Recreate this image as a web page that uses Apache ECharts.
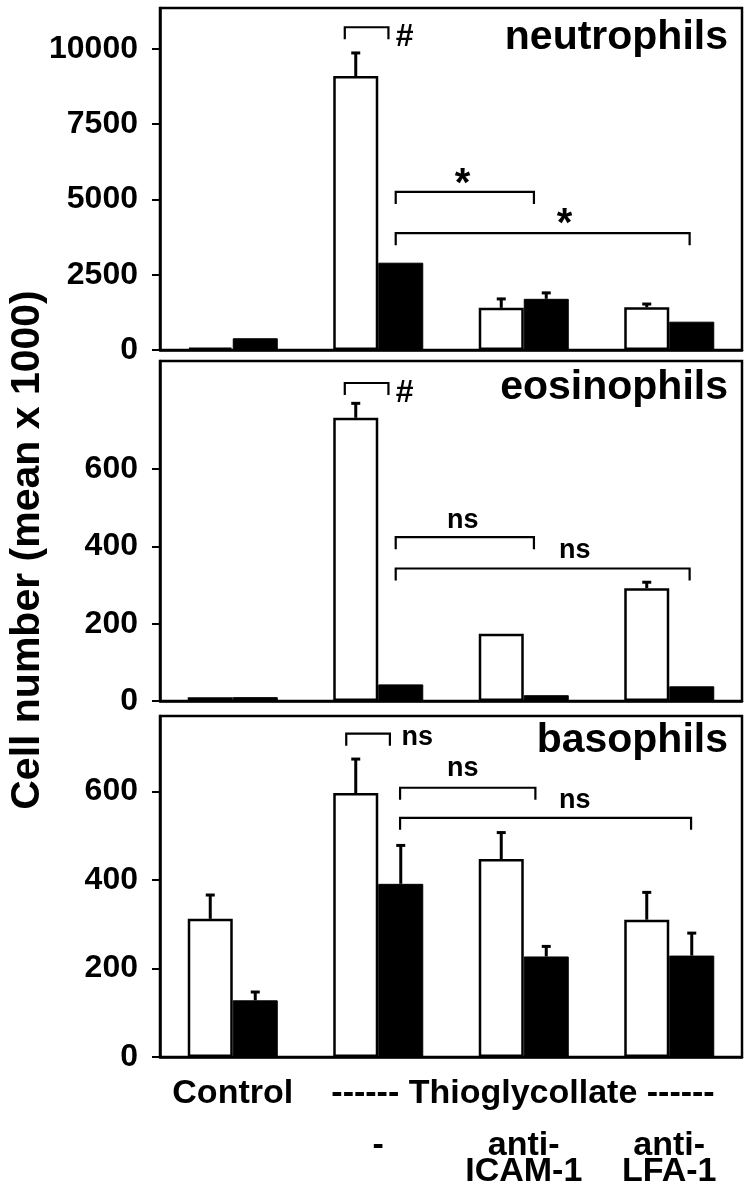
<!DOCTYPE html>
<html><head><meta charset="utf-8">
<script src="https://cdn.jsdelivr.net/npm/echarts@6/dist/echarts.min.js"></script>
<style>html,body{margin:0;padding:0;background:#fff}#c{width:746px;height:1200px}</style>
</head><body><div id="c"></div>
<script>
// ---------- data (cell number, mean x 1000) ----------
const categories = ['Control', '-', 'anti-\nICAM-1', 'anti-\nLFA-1'];
const groupLabel = '------ Thioglycollate ------';
const yTitle = 'Cell number (mean x 1000)';
const panelNames = ['neutrophils', 'eosinophils', 'basophils'];

const neutroOpen = [80, 9100, 1400, 1420];
const neutroOpenErr = [0, 800, 330, 140];
const neutroFilled = [390, 2900, 1700, 940];
const neutroFilledErr = [0, 0, 230, 0];
const neutroTicks = [0, 2500, 5000, 7500, 10000];
const neutroMax = 11360;

const eosinoOpen = [10, 733, 174, 292];
const eosinoOpenErr = [0, 40, 0, 18];
const eosinoFilled = [10, 43, 15, 38];
const eosinoFilledErr = [0, 0, 0, 0];
const eosinoTicks = [0, 200, 400, 600];
const eosinoMax = 880;

const basoOpen = [312, 596, 447, 310];
const basoOpenErr = [56, 79, 62, 64];
const basoFilled = [128, 391, 227, 229];
const basoFilledErr = [21, 89, 25, 53];
const basoTicks = [0, 200, 400, 600];
const basoMax = 770;

// significance brackets: [from group, to group, level]
const neutroBrackets = [[0.77, 1.07, 10720], [1.12, 2.07, 5250], [1.12, 3.14, 3880]];
const eosinoBrackets = [[0.77, 1.07, 823], [1.12, 2.07, 424], [1.12, 3.14, 343]];
const basoBrackets = [[0.78, 1.08, 730], [1.15, 2.08, 608], [1.15, 3.15, 540]];
// significance marks: [text, group position, level, align]
const neutroMarks = [['#', 1.12, 10390, 'left'], ['*', 1.58, 5480, 'center'], ['*', 2.28, 4150, 'center']];
const eosinoMarks = [['#', 1.12, 796, 'left'], ['ns', 1.58, 468, 'center'], ['ns', 2.35, 390, 'center']];
const basoMarks = [['ns', 1.16, 721, 'left'], ['ns', 1.58, 651, 'center'], ['ns', 2.35, 580, 'center']];

// ---------- layout / style ----------
const FONT = '"Liberation Sans", Arial, Helvetica, sans-serif';
const BAR_W = 45;
const GRID_LEFT = 160, GRID_W = 582;
const layout = [{top: 8, height: 342}, {top: 361, height: 340}, {top: 716, height: 341}];
const titleY = [38, 388, 741];

const panels = [
  {open: neutroOpen, openErr: neutroOpenErr, filled: neutroFilled, filledErr: neutroFilledErr, ticks: neutroTicks, max: neutroMax, brackets: neutroBrackets, marks: neutroMarks},
  {open: eosinoOpen, openErr: eosinoOpenErr, filled: eosinoFilled, filledErr: eosinoFilledErr, ticks: eosinoTicks, max: eosinoMax, brackets: eosinoBrackets, marks: eosinoMarks},
  {open: basoOpen, openErr: basoOpenErr, filled: basoFilled, filledErr: basoFilledErr, ticks: basoTicks, max: basoMax, brackets: basoBrackets, marks: basoMarks}
];

function errRender(side) {
  return function (params, api) {
    const v = api.value(1), e = api.value(2);
    if (!(e > 0)) return null;
    const base = api.coord([api.value(0), v]);
    const top = api.coord([api.value(0), v + e]);
    const x = base[0] + side * BAR_W / 2;
    return {type: 'group', children: [
      {type: 'line', shape: {x1: x, y1: base[1], x2: x, y2: top[1]}, style: {stroke: '#000', lineWidth: 3}},
      {type: 'line', shape: {x1: x - 4.5, y1: top[1] + 1, x2: x + 4.5, y2: top[1] + 1}, style: {stroke: '#000', lineWidth: 3}}
    ]};
  };
}

function bracketRender(params, api) {
  const a = api.coord([api.value(0), api.value(2)]);
  const b = api.coord([api.value(1), api.value(2)]);
  const drop = 12;
  return {type: 'polyline', shape: {points: [[a[0], a[1] + drop], [a[0], a[1]], [b[0], b[1]], [b[0], b[1] + drop]]},
    style: {stroke: '#000', lineWidth: 2.2, fill: null}};
}

function markRender(marks) {
  return function (params, api) {
    const m = marks[params.dataIndex];
    const p = api.coord([api.value(0), api.value(1)]);
    const size = m[0] === '*' ? 40 : (m[0] === '#' ? 32 : 27);
    return {type: 'text', x: p[0], y: p[1],
      style: {text: m[0], font: 'bold ' + size + 'px ' + FONT, fill: '#000', align: m[3], verticalAlign: 'middle'}};
  };
}

const grid = [], xAxis = [], yAxis = [], series = [];
panels.forEach((p, k) => {
  grid.push({left: GRID_LEFT, width: GRID_W, top: layout[k].top, height: layout[k].height,
    show: true, borderColor: '#000', borderWidth: 2.5, backgroundColor: 'transparent', containLabel: false});
  const last = k === panels.length - 1;
  xAxis.push({type: 'category', gridIndex: k, data: categories, boundaryGap: true,
    axisLine: {show: true, onZero: false, lineStyle: {color: '#000', width: 2.5}}, axisTick: {show: false},
    axisLabel: {show: last, interval: 0, color: '#000', fontFamily: FONT, fontWeight: 'bold', fontSize: 34,
      lineHeight: 26, margin: 24, formatter: (v, i) => i === 0 ? v : '\n\n' + v}});
  xAxis.push({type: 'value', gridIndex: k, min: -0.5, max: 3.5, show: false,
    axisLine: {show: false, onZero: false}});
  yAxis.push({type: 'value', gridIndex: k, min: 0, max: p.max,
    axisLine: {show: true, onZero: false, lineStyle: {color: '#000', width: 2.5}},
    axisTick: {show: true, length: 8, inside: false, lineStyle: {color: '#000', width: 2}, customValues: p.ticks},
    axisLabel: {color: '#000', fontFamily: FONT, fontWeight: 'bold', fontSize: 32, margin: 22, customValues: p.ticks,
      formatter: v => String(v)},
    splitLine: {show: false}});
  const xc = 2 * k, xv = 2 * k + 1;
  series.push({type: 'bar', xAxisIndex: xc, yAxisIndex: k, data: p.open, barWidth: BAR_W, barGap: '0%',
    itemStyle: {color: '#fff', borderColor: '#000', borderWidth: 2.5}, z: 2});
  series.push({type: 'bar', xAxisIndex: xc, yAxisIndex: k, data: p.filled, barWidth: BAR_W, barGap: '0%',
    itemStyle: {color: '#000', borderColor: '#000', borderWidth: 1}, z: 2});
  series.push({type: 'custom', xAxisIndex: xc, yAxisIndex: k, renderItem: errRender(-1), clip: false, z: 3,
    data: p.open.map((v, i) => [i, v, p.openErr[i]])});
  series.push({type: 'custom', xAxisIndex: xc, yAxisIndex: k, renderItem: errRender(1), clip: false, z: 3,
    data: p.filled.map((v, i) => [i, v, p.filledErr[i]])});
  series.push({type: 'custom', xAxisIndex: xv, yAxisIndex: k, renderItem: bracketRender, clip: false, z: 4,
    encode: {x: [0, 1], y: 2}, data: p.brackets});
  series.push({type: 'custom', xAxisIndex: xv, yAxisIndex: k, renderItem: markRender(p.marks), clip: false, z: 4,
    data: p.marks.map(m => [m[1], m[2]])});
});

const graphic = [
  {type: 'text', x: 28, y: 550, rotation: Math.PI / 2,
    style: {text: yTitle, font: 'bold 41px ' + FONT, fill: '#000', align: 'center', verticalAlign: 'middle'}},
  {type: 'text', x: 523, y: 1094,
    style: {text: groupLabel, font: 'bold 34px ' + FONT, fill: '#000', align: 'center', verticalAlign: 'middle'}}
];
panelNames.forEach((n, k) => graphic.push({type: 'text', x: 728, y: titleY[k],
  style: {text: n, font: 'bold 41px ' + FONT, fill: '#000', align: 'right', verticalAlign: 'middle'}}));

const chart = echarts.init(document.getElementById('c'), null, {renderer: 'canvas'});
chart.setOption({animation: false, backgroundColor: '#fff', grid, xAxis, yAxis, series, graphic});
</script></body></html>
